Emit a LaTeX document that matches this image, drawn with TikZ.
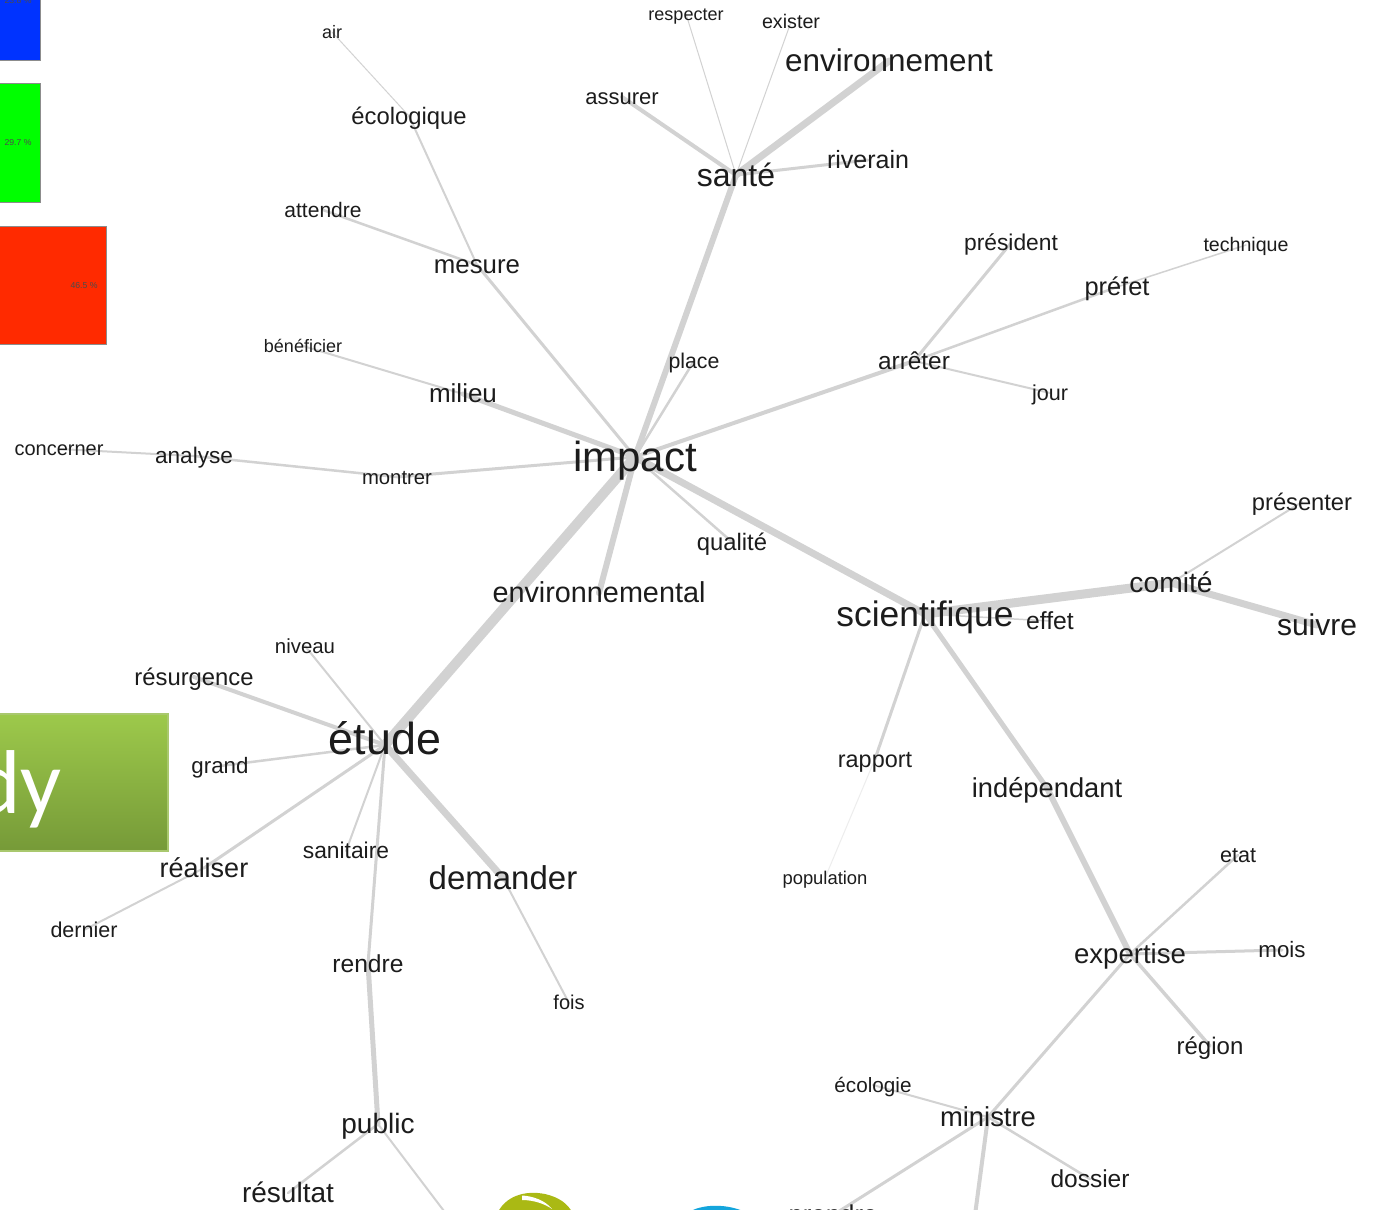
\documentclass[tikz,border=0pt]{standalone}
\usepackage{fontspec}
\setmainfont{Liberation Sans}
\newfontfamily\boxfont{Carlito}
\definecolor{edgegrey}{HTML}{D2D2D2}
\definecolor{faintgrey}{HTML}{EDEDED}
\definecolor{wordink}{HTML}{1C1C1C}
\definecolor{boxtop}{HTML}{9DC94B}
\definecolor{boxbot}{HTML}{769A38}
\definecolor{boxline}{HTML}{A9C86E}
\definecolor{swblue}{HTML}{0033FF}
\definecolor{swgreen}{HTML}{00FF00}
\definecolor{swred}{HTML}{FF2A00}
\definecolor{logoolive}{HTML}{AAB914}
\definecolor{logocyan}{HTML}{14A5DC}
\pgfdeclarelayer{base}
\pgfdeclarelayer{edges}
\pgfsetlayers{base,edges,main}
\newcommand\wordsize[1]{\pgfmathsetmacro\wfs{#1*0.75}\fontsize{\wfs}{\wfs}\selectfont}
\tikzset{
  word/.style={inner sep=0pt,outer sep=0pt,text=wordink,text height=#1*0.6075pt,text depth=#1*0.09pt,font=\wordsize{#1}},
  link/.style={draw=edgegrey,line width=#1*0.75pt,line cap=round},
  swatch/.style={draw=black!45,line width=.4pt,fill=#1},
  pct/.style={inner sep=0pt,text=black!70,font=\fontsize{6.5}{7}\selectfont}
}
\begin{document}
\begin{tikzpicture}[x=0.75pt,y=-0.75pt]
\useasboundingbox (0,0) rectangle (1373,1209);
\begin{pgfonlayer}{base}
\fill[white] (0,0) rectangle (1373,1209);
\filldraw[swatch=swblue] (-5,-5) rectangle (40,60);
\filldraw[swatch=swgreen] (-5,83) rectangle (40,202);
\filldraw[swatch=swred] (-5,226) rectangle (106,344);
\shade[top color=boxtop,bottom color=boxbot,draw=boxline,line width=1pt] (-5,714) rectangle (168,851);
\fill[logoolive] (497,1214) .. controls (505,1196) and (525,1190) .. (545,1194) .. controls (558,1197) and (568,1203) .. (573,1214) -- cycle;
\fill[white] (522,1195.5) .. controls (532,1196) and (545,1200) .. (552,1209) .. controls (545,1204) and (534,1200) .. (522,1200) -- cycle;
\fill[logocyan] (686,1214) .. controls (700,1203) and (730,1203) .. (749,1214) -- cycle;
\end{pgfonlayer}
\node[pct] (pb) at (18,1) {23.8 \%};
\node[pct] (pg) at (18,143) {29.7 \%};
\node[pct] (pr) at (84,286) {46.5 \%};
\node[anchor=base east,inner sep=0pt,text=white,font=\boxfont\fontsize{68}{70}\selectfont] (titlebox) at (62,813) {dy};
% words
\node[word=31.4] (environnement) at (889,61) {environnement};
\node[word=32] (sante) at (736,175) {santé};
\node[word=25] (riverain) at (868,160) {riverain};
\node[word=22] (assurer) at (622,97) {assurer};
\node[word=18] (respecter) at (686,14) {respecter};
\node[word=19.7] (exister) at (791,22) {exister};
\node[word=18] (air) at (332,32) {air};
\node[word=23.8] (ecologique) at (409,116) {écologique};
\node[word=21] (attendre) at (323,210) {attendre};
\node[word=25.8] (mesure) at (477,265) {mesure};
\node[word=18] (beneficier) at (303,346) {bénéficier};
\node[word=26] (milieu) at (463,394) {milieu};
\node[word=21.3] (place) at (694,361) {place};
\node[word=22.8] (president) at (1011,243) {président};
\node[word=19.6] (technique) at (1246,245) {technique};
\node[word=25.4] (prefet) at (1117,287) {préfet};
\node[word=24.4] (arreter) at (914,361) {arrêter};
\node[word=21.6] (jour) at (1050,393) {jour};
\node[word=20] (concerner) at (59,449) {concerner};
\node[word=22.6] (analyse) at (194,456) {analyse};
\node[word=20.3] (montrer) at (397,477) {montrer};
\node[word=42] (impact) at (635,457) {impact};
\node[word=23.8] (qualite) at (732,542) {qualité};
\node[word=28.8] (environnemental) at (599,593) {environnemental};
\node[word=35.4] (scientifique) at (925,614) {scientifique};
\node[word=24.7] (effet) at (1050,621) {effet};
\node[word=28.2] (comite) at (1171,583) {comité};
\node[word=30] (suivre) at (1317,625) {suivre};
\node[word=23.7] (presenter) at (1302,502) {présenter};
\node[word=20.4] (niveau) at (305,646) {niveau};
\node[word=23.8] (resurgence) at (194,677) {résurgence};
\node[word=22.3] (grand) at (220,766) {grand};
\node[word=44.8,text height=20pt,text depth=6.5pt] (etude) at (385,745) {étude};
\node[word=27] (realiser) at (204,868) {réaliser};
\node[word=21.5] (dernier) at (84,930) {dernier};
\node[word=22.8] (sanitaire) at (346,851) {sanitaire};
\node[word=33] (demander) at (503,878) {demander};
\node[word=24.6] (rendre) at (368,964) {rendre};
\node[word=20] (fois) at (569,1003) {fois};
\node[word=23.4] (rapport) at (875,759) {rapport};
\node[word=18.4] (population) at (825,878) {population};
\node[word=27.3] (independant) at (1047,788) {indépendant};
\node[word=21.6] (etat) at (1238,855) {etat};
\node[word=27.6] (expertise) at (1130,954) {expertise};
\node[word=22.3] (mois) at (1282,950) {mois};
\node[word=24] (region) at (1210,1046) {région};
\node[word=20.7] (ecologie) at (873,1085) {écologie};
\node[word=27.4] (ministre) at (988,1117) {ministre};
\node[word=24.5] (dossier) at (1090,1179) {dossier};
\node[word=28] (public) at (378,1124) {public};
\node[word=28] (resultat) at (288,1193) {résultat};
\node[word=25.8] (prendre) at (833,1215) {prendre};
\coordinate (offa) at (447,1215);
\coordinate (offb) at (975,1215);
% edges
\begin{pgfonlayer}{edges}
\foreach \a/\b/\w in {
 impact/sante/6, sante/environnement/7, sante/assurer/4, sante/respecter/1, sante/exister/1, sante/riverain/3,
 impact/mesure/3, mesure/ecologique/2, ecologique/air/1, mesure/attendre/2.5,
 impact/milieu/5, milieu/beneficier/2,
 impact/montrer/3, montrer/analyse/2.5, analyse/concerner/2,
 impact/place/2.5, impact/arreter/4, arreter/president/3, arreter/prefet/2.5, prefet/technique/1.5, arreter/jour/2,
 impact/qualite/2.5, impact/scientifique/7, impact/environnemental/6, impact/etude/10,
 scientifique/comite/9, scientifique/effet/1.5, comite/suivre/7, comite/presenter/2,
 scientifique/rapport/3, scientifique/independant/5, independant/expertise/6,
 expertise/etat/2.5, expertise/mois/3, expertise/region/3.5, expertise/ministre/3,
 ministre/ecologie/2, ministre/dossier/2.5, ministre/prendre/3,
 etude/niveau/2, etude/resurgence/4, etude/grand/2.5, etude/realiser/3, etude/sanitaire/2, etude/demander/7, etude/rendre/3,
 realiser/dernier/2, demander/fois/2, rendre/public/5, public/resultat/2.5}
 {\draw[link=\w] (\a.center) -- (\b.center);}
\draw[link=1,draw=faintgrey] (rapport.center) -- (population.center);
\draw[link=2] (public.center) -- (offa);
\draw[link=4] (ministre.center) -- (offb);
\end{pgfonlayer}
\end{tikzpicture}
\end{document}
